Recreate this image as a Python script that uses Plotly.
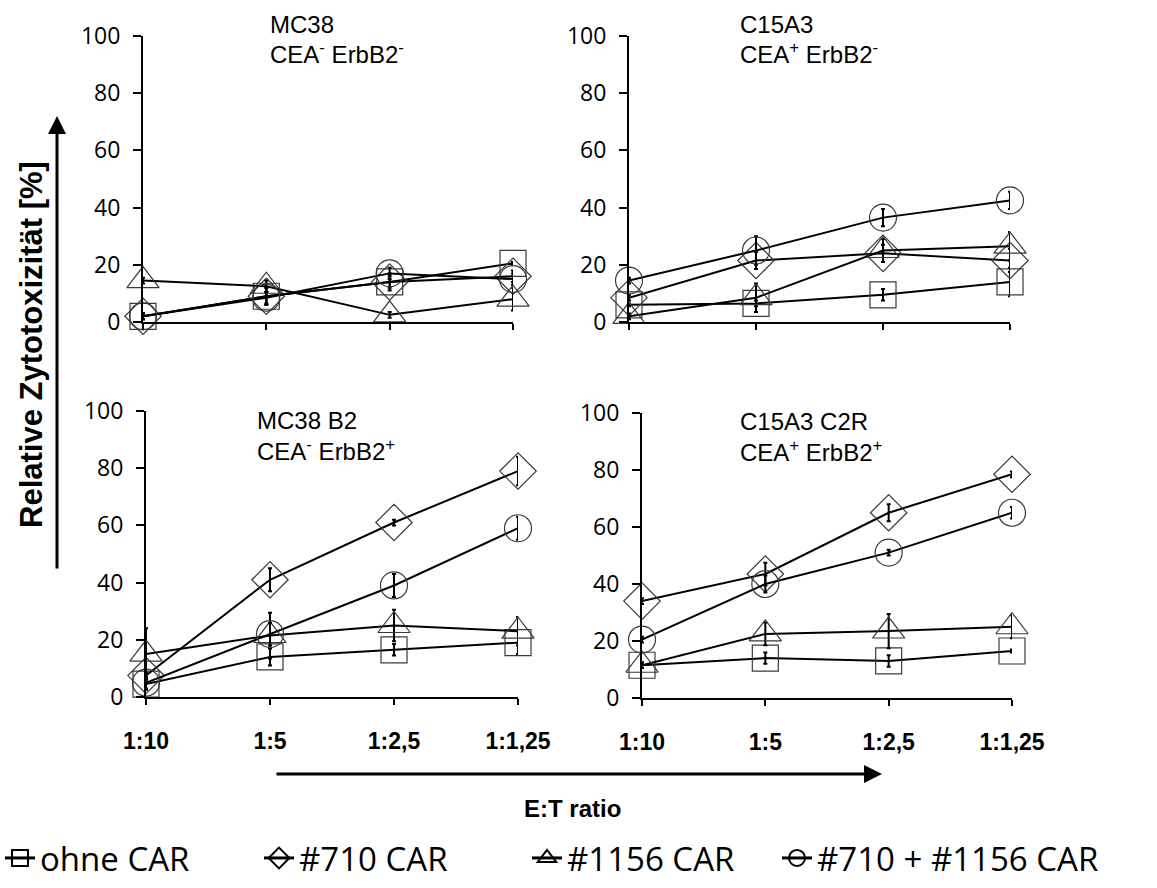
import plotly.graph_objects as go

W, H = 1157, 888

categories = ["1:10", "1:5", "1:2,5", "1:1,25"]
series_names = ["ohne CAR", "#710 CAR", "#1156 CAR", "#710 + #1156 CAR"]
panel_line1 = ["MC38", "C15A3", "MC38 B2", "C15A3 C2R"]
panel_line2 = ["CEA<sup>-</sup> ErbB2<sup>-</sup>", "CEA<sup>+</sup> ErbB2<sup>-</sup>",
               "CEA<sup>-</sup> ErbB2<sup>+</sup>", "CEA<sup>+</sup> ErbB2<sup>+</sup>"]

# Panel 1: MC38
mc38_ohne = [2, 9, 14, 20.5]
mc38_710 = [2, 9, 14, 16]
mc38_1156 = [14.5, 12.5, 2.5, 8]
mc38_combo = [2, 8.5, 17, 15]
mc38_ohne_err = [1, 3, 2, 0.5]
mc38_710_err = [1, 3, 3, 2]
mc38_1156_err = [1, 2, 1, 4]
mc38_combo_err = [1, 2, 2, 2]

# Panel 2: C15A3
c15_ohne = [6, 6.5, 9.5, 14]
c15_710 = [8.5, 21.5, 24, 21.5]
c15_1156 = [2, 8.5, 25, 26.5]
c15_combo = [14.5, 25, 36.5, 42.5]
c15_ohne_err = [0.5, 1, 2, 5]
c15_710_err = [1, 3, 3, 4]
c15_1156_err = [1, 5, 4, 5]
c15_combo_err = [1, 5, 3, 3]

# Panel 3: MC38 B2
b2_ohne = [4.5, 14, 16.5, 19]
b2_710 = [7.5, 41, 61, 79]
b2_1156 = [15, 21.5, 25, 23]
b2_combo = [5, 22, 39, 59]
b2_ohne_err = [2, 3, 2, 4]
b2_710_err = [1, 4, 1, 5]
b2_1156_err = [9, 8, 5.5, 5]
b2_combo_err = [2, 4, 4, 4]

# Panel 4: C15A3 C2R
c2r_ohne = [11.5, 14, 13, 16.5]
c2r_710 = [34, 43.5, 65, 78.5]
c2r_1156 = [11.5, 22.5, 23.5, 25]
c2r_combo = [20.5, 40, 51, 65]
c2r_ohne_err = [1, 2, 2, 0.5]
c2r_710_err = [1, 4, 3, 1]
c2r_1156_err = [1, 4, 6, 4]
c2r_combo_err = [1, 3, 1, 2]

panels = [
    ([mc38_ohne, mc38_710, mc38_1156, mc38_combo],
     [mc38_ohne_err, mc38_710_err, mc38_1156_err, mc38_combo_err]),
    ([c15_ohne, c15_710, c15_1156, c15_combo],
     [c15_ohne_err, c15_710_err, c15_1156_err, c15_combo_err]),
    ([b2_ohne, b2_710, b2_1156, b2_combo],
     [b2_ohne_err, b2_710_err, b2_1156_err, b2_combo_err]),
    ([c2r_ohne, c2r_710, c2r_1156, c2r_combo],
     [c2r_ohne_err, c2r_710_err, c2r_1156_err, c2r_combo_err]),
]

symbols = ["square-open", "diamond-open", "triangle-up-open", "circle-open"]
msizes = [26, 28, 28, 27]

# panel geometry in pixels: (x_left, x_right, y_bottom(0), y_top(100))
geo = [
    (143, 513, 322, 36),
    (629, 1010, 322, 36),
    (146, 518, 697, 411),
    (642, 1012, 698, 413),
]
# panel title positions (left x, centre y of line 1, centre y of line 2)
title_pos = [(268, 25, 53), (738, 25, 53), (255, 420, 450), (738, 422, 451)]

legend_ids = ["legend", "legend2", "legend3", "legend4"]
legend_x = [0, 259, 527, 777]

fig = go.Figure()
layout = dict(
    width=W, height=H, margin=dict(l=0, r=0, t=0, b=0, autoexpand=False),
    plot_bgcolor="white", paper_bgcolor="white",
    showlegend=True,
)
for lid, lx in zip(legend_ids, legend_x):
    layout[lid] = dict(orientation="h", x=lx / W, y=1 - 858 / H,
                       xanchor="left", yanchor="middle",
                       font=dict(family="Open Sans", size=33, color="black"),
                       itemwidth=30, bgcolor="rgba(0,0,0,0)", borderwidth=0)

annotations = []
for p, ((vals, errs), (xl, xr, yb, yt)) in enumerate(zip(panels, geo)):
    idx = "" if p == 0 else str(p + 1)
    xa, ya = "x" + idx, "y" + idx
    for s in range(4):
        fig.add_trace(go.Scatter(
            x=categories, y=vals[s], xaxis=xa, yaxis=ya,
            mode="lines+markers", name=series_names[s],
            showlegend=False,
            line=dict(color="black", width=2),
            marker=dict(symbol=symbols[s], size=msizes[s], color="#3a3a3a",
                        line=dict(width=1.2, color="#3a3a3a")),
            error_y=dict(type="data", array=errs[s], visible=True,
                         color="black", thickness=2, width=2),
            cliponaxis=False,
        ))
    bottom = p >= 2
    layout["xaxis" + idx] = dict(
        domain=[xl / W, xr / W], anchor=ya, type="category",
        categoryorder="array", categoryarray=categories,
        range=[0, 3], showgrid=False, zeroline=False, automargin=False,
        showline=True, linecolor="black", linewidth=2,
        ticks="outside", ticklen=6, tickwidth=2, tickcolor="black",
        showticklabels=bottom, ticklabelstandoff=16,
        tickfont=dict(family="Liberation Sans", size=23,
                      color="black", weight="bold"),
    )
    layout["yaxis" + idx] = dict(
        domain=[1 - yb / H, 1 - yt / H], anchor=xa,
        range=[0, 100], tickvals=[0, 20, 40, 60, 80, 100],
        showgrid=False, zeroline=False, automargin=False,
        showline=True, linecolor="black", linewidth=2,
        ticks="outside", ticklen=8, tickwidth=2, tickcolor="black",
        ticklabelstandoff=8,
        tickfont=dict(family="Open Sans", size=23, color="black"),
    )
    tx, ty1, ty2 = title_pos[p]
    annotations.append(dict(text=panel_line1[p], x=tx / W, y=1 - ty1 / H,
                            xref="paper", yref="paper", xanchor="left", yanchor="middle",
                            showarrow=False,
                            font=dict(family="Liberation Sans", size=24, color="black")))
    annotations.append(dict(text=panel_line2[p], x=tx / W, y=1 - ty2 / H,
                            xref="paper", yref="paper", xanchor="left", yanchor="middle",
                            showarrow=False,
                            font=dict(family="Liberation Sans", size=24, color="black")))

# legend-only entries
for s in range(4):
    fig.add_trace(go.Scatter(
        x=[None], y=[None], mode="lines+markers", name=series_names[s],
        showlegend=True, legend=legend_ids[s],
        line=dict(color="black", width=3),
        marker=dict(symbol=symbols[s], size=16, color="black",
                    line=dict(width=2, color="black")),
    ))

# axis titles
annotations.append(dict(text="<b>Relative Zytotoxizität [%]</b>", x=31 / W, y=1 - 345 / H,
                        xref="paper", yref="paper", textangle=-90, showarrow=False,
                        xanchor="center", yanchor="middle",
                        font=dict(family="Liberation Sans", size=31, color="black")))
annotations.append(dict(text="<b>E:T ratio</b>", x=572 / W, y=1 - 808 / H,
                        xref="paper", yref="paper", showarrow=False,
                        xanchor="center", yanchor="middle",
                        font=dict(family="Liberation Sans", size=24, color="black")))
# arrows
annotations.append(dict(text="", x=57 / W, y=1 - 116 / H, xref="paper", yref="paper",
                        ax=0, ay=454, axref="pixel", ayref="pixel",
                        showarrow=True, arrowhead=2, arrowsize=1.2, arrowwidth=3,
                        arrowcolor="black"))
annotations.append(dict(text="", x=882 / W, y=1 - 774 / H, xref="paper", yref="paper",
                        ax=-607, ay=0, axref="pixel", ayref="pixel",
                        showarrow=True, arrowhead=2, arrowsize=1.2, arrowwidth=3,
                        arrowcolor="black"))

layout["annotations"] = annotations
fig.update_layout(**layout)
fig.write_html("out.html",
               config={"displayModeBar": False},
               post_script="document.body.style.margin='0';document.body.style.overflow='hidden';")
